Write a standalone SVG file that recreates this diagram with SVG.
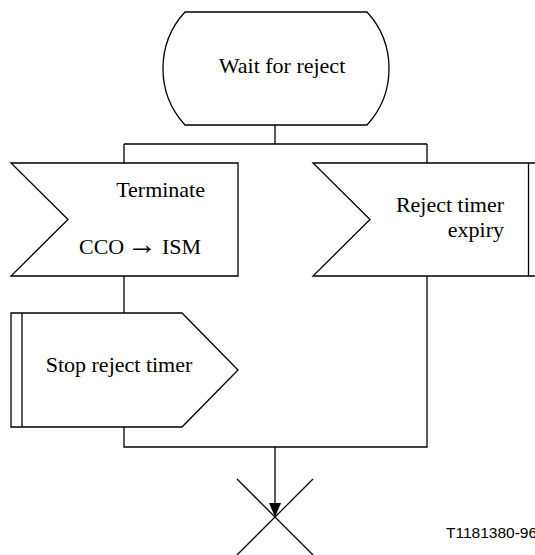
<svg xmlns="http://www.w3.org/2000/svg" width="535" height="555" viewBox="0 0 535 555">
<style>
.s{fill:#fff;stroke:#000;stroke-width:1.3}
.l{fill:none;stroke:#000;stroke-width:1.3}
.t{font-family:"Liberation Serif","Times New Roman",serif;font-size:22px;fill:#000}
.lab{font-family:"Liberation Sans",Arial,sans-serif;font-size:15.5px;fill:#000}
</style>
<rect width="535" height="555" fill="#fff"/>
<g id="connectors">
<path class="l" d="M275,125 V144 M124,144 H427 M124,144 V163 M427,144 V163"/>
<path class="l" d="M124,276 V313"/>
<path class="l" d="M124,427 V447 H427 V276"/>
<path class="l" d="M275,447 V505"/>
<path d="M269,503 L281,503 L275,517 Z" fill="#000"/>
</g>
<g id="state-wait">
<path class="s" d="M185,12 L367,12 A83.5,83.5 0 0 1 367,125 L185,125 A83.5,83.5 0 0 1 185,12 Z"/>
<text class="t" x="282" y="73" text-anchor="middle">Wait for reject</text>
</g>
<g id="input-terminate">
<path class="s" d="M11,163 L238,163 L238,276 L11,276 L68,219.5 Z"/>
<text class="t" y="197" x="205" text-anchor="end">Terminate</text>
<text class="t" y="254"><tspan x="79">CCO</tspan> <tspan x="127" font-size="30">→</tspan> <tspan x="162">ISM</tspan></text>
</g>
<g id="input-reject-timer">
<path class="s" d="M313,163 L545,163 L545,276 L313,276 L370,219.5 Z"/>
<line class="l" x1="528.5" y1="163" x2="528.5" y2="276"/>
<text class="t" x="504" y="212" text-anchor="end">Reject timer</text>
<text class="t" x="504" y="237" text-anchor="end">expiry</text>
</g>
<g id="output-stop-timer">
<path class="s" d="M11,313 L182,313 L238,370 L182,427 L11,427 Z"/>
<line class="l" x1="22" y1="313" x2="22" y2="427"/>
<text class="t" x="119" y="372" text-anchor="middle">Stop reject timer</text>
</g>
<g id="stop">
<path class="l" d="M237,479 L313,555 M313,479 L237,555"/>
</g>
<text class="lab" x="446" y="538">T1181380-96</text>
</svg>
